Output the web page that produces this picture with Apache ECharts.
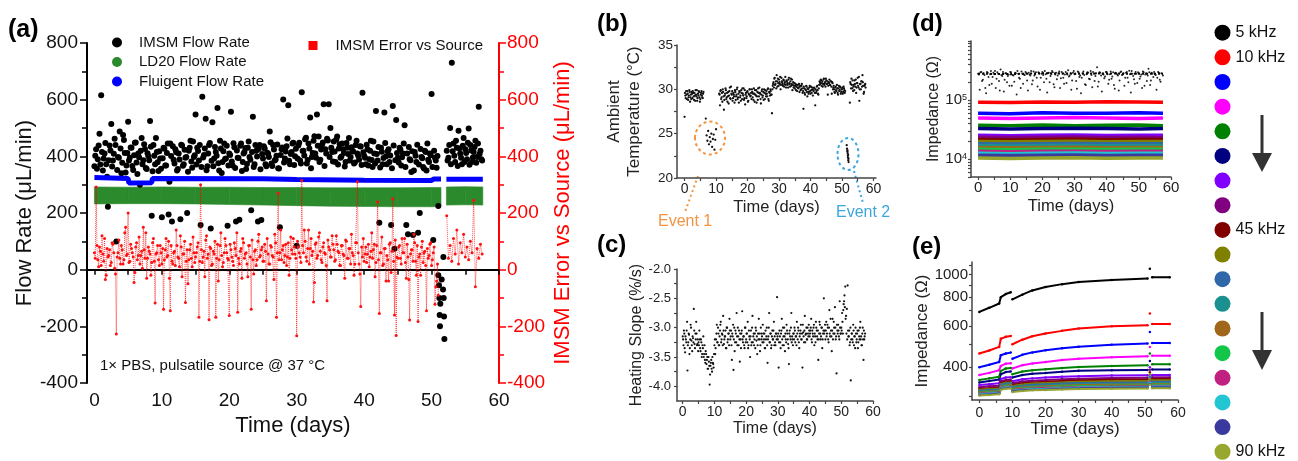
<!DOCTYPE html>
<html>
<head>
<meta charset="utf-8">
<script src="https://cdn.jsdelivr.net/npm/echarts@6/dist/echarts.min.js"></script>
<style>
html, body { margin: 0; padding: 0; background: #fff; }
#main { width: 1298px; height: 461px; }
</style>
</head>
<body>
<div id="main"></div>
<script>
var fontFam = '"Liberation Sans", Arial, sans-serif';

// ---- tick labels ----
var dayLabels = [0, 10, 20, 30, 40, 50, 60];
var dayTicks = [0, 5, 10, 15, 20, 25, 30, 35, 40, 45, 50, 55, 60];
var slopeLabels = [-4, -3.5, -3, -2.5, -2];
var slopeTicks = [-4, -3.75, -3.5, -3.25, -3, -2.75, -2.5, -2.25, -2];
var dImpLabels = [1e4, 1e5];
var dImpTicks = [5000, 6000, 7000, 8000, 9000, 1e4, 2e4, 3e4, 4e4, 5e4, 6e4, 7e4, 8e4, 9e4,
  1e5, 2e5, 3e5, 4e5, 5e5, 6e5, 7e5, 8e5, 9e5, 1e6];
var eImpLabels = [400, 600, 800, 1000];
var eImpTicks = [300, 400, 500, 600, 700, 800, 900, 1000, 1100];

// ---- (a) flow rates, sampled every 0.25 day (second pass offset by 0.125 day) ----
var imsmA = [
  365, 425, 390, 480, 616, 350, 410, 372, 222, 438, 514, 385, 462, 99, 398, 488, 340, 475, 412, 368,
  522, 395, 430, 352, 448, 378, 410, 300, 465, 386, 426, 355, 400, 525, 190, 440, 372, 415, 348, 392,
  185, 430, 368, 412, 195, 445, 170, 388, 425, 350, 410, 178, 438, 372, 395, 200, 420, 455, 360, 398,
  548, 430, 385, 158, 610, 405, 533, 365, 440, 145, 520, 392, 415, 571, 350, 428, 380, 445, 392, 155,
  410, 557, 368, 432, 170, 395, 176, 445, 380, 415, 355, 430, 398, 210, 540, 372, 420, 170, 440, 175,
  392, 428, 365, 410, 488, 375, 440, 385, 402, 358, 150, 425, 601, 392, 436, 580, 372, 415, 448, 400,
  84, 438, 385, 626, 420, 460, 375, 445, 537, 398, 455, 410, 548, 470, 388, 440, 584, 425, 462, 584,
  500, 415, 452, 380, 470, 428, 395, 445, 412, 380, 430, 465, 398, 420, 375, 440, 410, 388, 435, 624,
  402, 372, 425, 390, 455, 362, 410, 560, 385, 166, 430, 372, 555, 400, 418, 380, 158, 578, 74, 528,
  395, 430, 368, 410, 510, 158, 125, 390, 345, 122, 415, 380, 130, 200, 398, 362, 420, 350, 388, 410,
  620, 105, 395, 360, 225
];
var imsmA2 = [
  402, 356, 438, 371, 415, 392, 447, 328, 386, 421, 364, 409, 440, 352, 395, 428, 377, 458, 343, 412,
  385, 431, 366, 404, 449, 338, 397, 420, 372, 443, 359, 411, 386, 434, 347, 402, 465, 379, 418, 356,
  393, 427, 368, 445, 310, 401, 436, 375, 414, 355, 389, 441, 367, 423, 398, 346, 430, 382, 452, 404,
  371, 419, 440, 362, 396, 428, 351, 410, 447, 384, 365, 433, 402, 376, 455, 341, 418, 391, 437, 368,
  405, 382, 446, 359, 421, 394, 437, 348, 410, 429, 373, 452, 388, 415, 362, 440, 399, 426, 354, 408,
  436, 372, 413, 398, 450, 366, 424, 389, 442, 357, 405, 431, 378, 417, 463, 384, 408, 445, 369, 427,
  392, 448, 375, 419, 403, 466, 387, 428, 358, 412, 471, 395, 437, 380, 424, 449, 366, 410, 456, 398,
  430, 382, 417, 459, 371, 443, 399, 425, 364, 447, 408, 385, 432, 417, 378, 455, 402, 436, 369, 414,
  395, 441, 368, 420, 387, 452, 375, 408, 433, 361, 416, 394, 447, 372, 425, 403, 358, 438, 386, 412,
  378, 424, 397, 445, 362, 410, 433, 386, 418, 350, 402, 441, 371, 426, 393, 357, 415, 445, 380, 404,
  362, 420, 385, 401
];
var imsmB = [420, 395, 500, 730, 445, 380, 430, 490, 410, 372, 465, 425, 390, 498, 440, 380, 415, 455, 398, 575, 420, 385];
var imsmB2 = [385, 440, 372, 418, 402, 455, 366, 428, 395, 437, 380, 412, 448, 370, 421, 396, 433, 377, 445, 408, 390];
var imsmEvent = [[51.0, -20], [51.1, -55], [51.15, -100], [51.2, -160], [51.25, -200], [51.3, -120],
  [51.5, -35], [51.7, -70], [51.75, 45], [51.8, -100], [51.85, -165], [51.9, -245]];

var ld20Days = [0, 5, 10, 15, 20, 25, 30, 35, 40, 45, 50, 51.4, 51.8, 52.2, 55, 57.6];
var ld20Low = [232, 233, 233, 232, 230, 228, 226, 224, 223, 222, 222, 223, null, 228, 229, 228];
var ld20High = [292, 291, 292, 291, 291, 290, 290, 289, 289, 289, 290, 290, null, 292, 293, 292];

var fluDays = [0, 5, 5.1, 8.5, 8.6, 25, 30, 40, 50, 50.3, 51.4, 51.8, 52.2, 57.6];
var fluVals = [325, 322, 306, 307, 322, 321, 318, 316, 315, 320, 320, null, 319, 319];

var errA = [
  60, 292, 35, 80, 15, 55, 110, -20, 45, 70, 25, 90, 5, -227, 60, 40, 85, 20, 130, 50,
  200, 30, 75, 45, -10, 95, 50, 20, 65, 150, 40, -30, 80, 55, 25, 110, -118, 60, 35, 85,
  20, -140, 70, 45, 100, -145, 30, 60, 15, 85, 40, 120, -25, 55, -116, 70, 35, 90, 10, 60,
  45, 80, -168, 300, 25, 65, 105, 40, -177, 75, 20, 55, -168, 90, 35, 130, 10, 60, 85, 40,
  -162, 70, 30, 95, 50, -150, 20, 75, 110, 40, 60, -25, 85, -140, 35, 65, 15, 100, 45, 70,
  30, 90, -110, 55, 20, 80, 45, 125, -168, 270, 60, 35, 85, 50, 15, 95, 40, 70, 110, 55,
  -233, 80, 45, 315, 60, 100, 30, 140, 75, 50, -114, 90, 40, 115, 65, 25, 95, 55, -110, 80,
  45, 120, 70, 35, 90, 60, 15, 85, 50, 105, 40, 75, 20, 60, -20, 95, 310, 20, -130, 45,
  30, 80, 55, 10, 65, 40, 90, 25, 240, -155, 60, 15, 75, -40, 35, 90, -10, 250, -160, -232,
  40, 85, 20, 60, 110, -30, 45, -178, 70, 30, 95, -20, -183, 55, 80, 25, 65, -145, 40, 90,
  15, 60, -122, -40, -90
];
var errA2 = [
  40, 85, 10, 65, 120, 30, -35, 75, 50, 15, 95, 60, -15, 45, 105, 20, 70, 35, 150, 55,
  25, 90, 60, -45, 80, 35, 115, 50, 5, 70, 130, 40, 65, -20, 95, 30, 55, 85, 15, 60,
  75, 35, 110, 50, -30, 85, 20, 65, 140, 45, 10, 80, 55, 100, 30, -50, 70, 40, 115, 25,
  60, 95, 30, 70, 45, -25, 120, 55, 80, 15, 65, 100, 40, -40, 85, 50, 25, 110, 60, 35,
  90, 45, 15, 75, 130, 40, 65, -30, 95, 55, 20, 85, 45, 105, -15, 70, 35, 125, 50, 80,
  30, 65, 110, 20, 85, 50, -35, 95, 60, 35, 140, 70, 25, 90, 45, -20, 115, 55, 80, 40,
  100, 60, 25, 85, 140, 45, 75, 20, 110, 65, -45, 95, 50, 130, 35, 80, 60, 15, 105, 70,
  45, 90, 30, 120, 65, 15, 85, 55, -30, 100, 40, 75, 125, 50, 20, 95, 60, -15, 80, 110,
  55, 25, 90, 45, 130, 70, -25, 85, 35, 60, 115, 20, 75, 50, -40, 95, 65, 30, 105, 45,
  80, 40, 110, 60, 25, 90, -35, 55, 70, 125, 30, 85, 45, -20, 100, 60, 15, 75, 50, 95,
  35, 80, -60, 20
];
var errB = [190, 40, 85, 30, 110, 55, 140, 20, 95, 60, 125, 45, 80, 35, 100, 60, 245, -60, 75, 40, 90, 55];

// ---- (b) ambient temperature (two interleaved passes) ----
var tempStart = [26.9, 29.3, 29.8, 28.9, 29.5, 29.1, 29.9, 28.6, 29.4, 29.7, 29.0, 29.6, 28.8, 29.3, 29.9,
  29.2, 28.7, 29.5, 29.8, 29.1, 28.9, 29.6, 29.3, 29.0, 29.7];
var tempStart2 = [29.6, 29.0, 29.4, 29.8, 28.8, 29.3, 29.7, 29.1, 28.9, 29.5, 29.8, 29.2, 29.6, 28.7, 29.4,
  29.9, 29.0, 29.3, 29.7, 28.6, 29.4, 29.8, 29.1, 29.5];
var tempEvent1 = [26.7, 24.8, 24.2, 25.3, 23.8, 24.6, 24.1, 25.0, 23.5, 24.4, 24.9, 23.2, 24.3, 25.5];
var tempMain = [
  29.5, 28.2, 29.9, 29.1, 28.6, 29.7, 27.7, 29.3, 30.1, 28.9, 29.6, 29.2, 28.4, 29.8, 29.0, 30.3, 29.4, 28.7, 29.6, 29.2,
  29.9, 28.8, 29.4, 30.2, 29.1, 28.5, 29.7, 29.3, 29.9, 28.9, 29.5, 30.1, 29.0, 28.3, 29.6, 29.2, 29.8, 28.7, 29.4, 30.0,
  29.3, 28.9, 29.7, 29.5, 30.1, 28.6, 29.4, 29.9, 29.2, 28.8, 29.6, 30.2, 29.5, 28.4, 29.8, 29.1, 29.7, 30.0, 28.9, 29.5,
  29.8, 29.2, 30.1, 28.7, 29.6, 30.0, 29.4, 27.3, 30.4, 30.8, 31.2, 30.5, 30.9, 31.6, 30.3, 30.7, 31.1, 30.6, 30.0, 31.3,
  30.8, 30.4, 31.0, 30.6, 31.4, 30.2, 30.9, 30.5, 31.1, 30.7, 30.3, 31.2, 30.6, 29.9, 30.8, 30.4, 30.1, 30.6, 30.3, 29.8,
  30.5, 30.2, 29.7, 30.4, 30.0, 30.6, 29.6, 27.8, 30.1, 29.4, 29.9, 30.3, 29.2, 30.0, 29.7, 30.4, 29.5, 29.9, 30.2, 29.3,
  29.8, 30.1, 28.2, 29.6, 30.3, 29.9, 29.4, 30.5, 30.8, 31.1, 30.4, 30.9, 30.6, 31.2, 30.7, 30.3, 31.0, 30.6, 29.4, 30.8,
  31.1, 30.5, 30.9, 29.5, 30.7, 30.2, 30.0, 29.6, 30.3, 29.8, 30.1, 29.4, 30.4, 29.9, 30.2, 29.7, 30.0, 29.5, 30.3, 29.9,
  29.8
];
var tempMain2 = [
  29.4, 29.8, 28.9, 29.6, 30.0, 29.2, 28.8, 29.5, 29.9, 29.1, 28.6, 29.7, 29.3, 30.2, 28.9, 29.5, 29.8, 29.0, 29.4, 28.5,
  29.7, 29.2, 30.0, 28.9, 29.5, 29.8, 29.1, 28.7, 29.6, 30.1, 29.3, 28.8, 29.9, 29.4, 29.0, 29.7, 28.6, 29.5, 30.0, 29.2,
  29.6, 30.0, 29.1, 28.8, 29.5, 29.9, 29.3, 28.5, 29.7, 30.1, 29.2, 29.6, 28.9, 29.4, 30.0, 29.3, 28.8, 29.6, 29.9, 29.2,
  29.5, 30.0, 28.9, 29.7, 29.3, 29.8, 29.4, 30.0, 30.6, 30.2, 31.3, 30.6, 30.1, 30.9, 31.2, 30.4, 30.8, 31.4, 30.5, 30.9,
  30.6, 31.1, 30.3, 30.8, 30.5, 31.0, 30.7, 30.2, 31.3, 30.6, 30.9, 30.4, 31.1, 30.5, 30.2, 30.7, 30.4, 29.9, 30.5, 30.2,
  30.1, 30.6, 30.3, 29.9, 30.4, 30.1, 29.8, 30.3, 29.6, 30.0, 30.4, 29.7, 30.1, 29.5, 30.2, 29.8, 30.3, 29.6, 30.0, 29.9,
  30.2, 29.6, 30.0, 29.8, 30.4, 29.5, 30.1, 30.9, 30.6, 31.0, 30.7, 30.3, 31.1, 30.5, 30.8, 31.2, 30.6, 30.9, 30.4, 30.7,
  30.5, 30.9, 30.3, 30.8, 30.0, 30.4, 29.7, 30.2, 29.9, 30.5, 29.6, 30.1, 29.8, 30.3, 29.5, 30.0, 30.2, 29.7, 30.1, 29.6
];
var tempEvent2 = [[51.5, 23.7], [51.6, 23.3], [51.7, 23.0], [51.75, 23.1], [51.8, 22.8], [51.85, 22.5],
  [51.9, 22.3], [51.95, 22.6], [52.0, 22.0], [52.05, 22.2], [52.1, 21.8]];
var tempEnd = [28.5, 30.6, 31.2, 30.1, 29.8, 30.5, 31.0, 30.3, 29.6, 30.7, 31.3, 30.2, 28.7, 30.6, 30.0,
  30.9, 31.6, 30.4, 29.7, 30.5, 30.2];
var tempEnd2 = [30.8, 30.1, 30.5, 31.0, 30.3, 29.9, 30.6, 31.1, 30.2, 30.7, 30.4, 31.4, 30.0, 30.6, 30.9,
  30.3, 30.8, 29.5, 30.4, 30.6];

// ---- (c) heating slope, sampled every 0.25 day (two interleaved passes) ----
var slope = [
  -3.15, -3.3, -3.1, -3.42, -3.2, -3.05, -3.73, -3.25, -3.12, -3.35, -2.95, -3.22, -3.4, -3.18, -2.68, -3.28, -3.1, -2.9, -3.3, -3.2,
  -3.25, -3.05, -3.35, -3.2, -3.5, -3.3, -3.15, -3.45, -3.55, -3.4, -3.62, -3.5, -3.7, -3.58, -3.97, -3.65, -3.55, -3.75, -3.6, -3.68,
  -3.3, -3.45, -3.2, -2.95, -3.25, -3.1, -3.3, -3.05, -2.9, -3.2, -3.12, -2.8, -3.28, -3.15, -3.05, -3.35, -3.0, -3.2, -3.1, -2.85,
  -3.2, -3.05, -3.55, -3.15, -3.72, -3.0, -3.25, -3.1, -2.75, -3.3, -3.15, -3.05, -3.58, -3.2, -3.1, -2.72, -3.25, -3.15, -3.35, -3.0,
  -3.2, -3.1, -2.9, -3.3, -3.15, -3.5, -3.05, -3.25, -2.8, -3.15, -3.3, -3.1, -3.0, -3.22, -3.45, -3.1, -2.85, -3.2, -3.3, -3.1,
  -3.15, -2.95, -3.25, -3.1, -3.35, -3.2, -3.0, -3.6, -3.15, -2.75, -3.25, -3.1, -3.3, -3.05, -3.2, -2.9, -3.15, -3.3, -3.1, -2.48,
  -3.2, -3.68, -3.05, -3.25, -3.1, -2.85, -3.3, -3.15, -3.0, -3.4, -3.2, -2.95, -3.1, -3.28, -3.62, -3.05, -3.2, -2.75, -3.15, -3.3,
  -3.1, -3.0, -3.25, -3.15, -2.9, -3.2, -3.05, -3.35, -3.1, -2.95, -3.2, -3.68, -3.08, -3.25, -2.8, -3.12, -3.0, -3.2, -3.1, -2.95,
  -3.15, -3.05, -2.85, -3.25, -3.1, -3.0, -3.3, -3.15, -2.9, -3.05, -3.2, -3.55, -3.1, -2.95, -3.2, -3.0, -3.35, -3.1, -2.5, -3.05,
  -3.2, -2.9, -3.1, -3.0, -3.25, -2.7, -3.15, -3.05, -3.4, -2.85, -3.1, -3.0, -2.65, -3.2, -3.78, -3.05, -2.95, -3.15, -2.55, -3.1,
  -3.0, -2.75, -3.1, -2.6, -2.45, -2.3, -2.8, -2.68, -2.28, -3.15, -3.05, -3.25, -3.9, -3.1, -3.2, -2.95, -3.3, -3.15, -3.0, -3.25,
  -3.1, -3.35, -3.05, -3.2, -2.9, -3.15, -3.3, -3.0, -3.55, -3.2, -3.1
];
var slope2 = [
  -3.2, -3.05, -3.35, -3.15, -3.25, -2.9, -3.3, -3.1, -3.45, -3.2, -3.0, -3.3, -3.15, -3.25, -3.05, -3.35, -3.2, -3.1, -3.28, -3.4,
  -3.3, -3.2, -3.4, -3.25, -3.45, -3.35, -3.5, -3.3, -3.6, -3.45, -3.55, -3.7, -3.5, -3.65, -3.8, -3.6, -3.7, -3.5, -3.62, -3.45,
  -3.2, -3.35, -3.1, -3.25, -3.0, -3.3, -3.15, -2.95, -3.25, -3.1, -3.3, -3.05, -3.2, -3.15, -3.35, -3.0, -3.25, -3.1, -3.3, -3.05,
  -3.15, -3.3, -3.1, -2.95, -3.2, -3.4, -3.05, -3.25, -3.15, -3.0, -3.3, -3.2, -3.1, -3.35, -3.05, -3.2, -3.15, -3.3, -3.0, -3.25,
  -3.1, -3.25, -3.35, -3.05, -3.2, -3.15, -3.3, -3.0, -3.25, -3.1, -3.2, -3.35, -3.05, -3.15, -3.3, -3.2, -3.1, -3.4, -3.0, -3.2,
  -3.25, -3.1, -3.2, -3.35, -3.05, -3.15, -3.3, -3.2, -3.0, -3.25, -3.1, -3.35, -3.15, -3.2, -3.05, -3.3, -3.25, -3.1, -3.2, -3.15,
  -3.1, -3.25, -3.15, -3.35, -3.05, -3.2, -3.0, -3.3, -3.15, -3.1, -3.25, -3.05, -3.2, -3.35, -3.1, -3.15, -3.0, -3.25, -3.2, -3.1,
  -3.2, -3.05, -3.15, -3.3, -3.1, -3.0, -3.25, -3.15, -3.05, -3.2, -3.1, -2.95, -3.15, -3.05, -3.25, -3.1, -3.2, -3.0, -3.15, -3.05,
  -3.1, -3.0, -3.2, -3.05, -3.15, -2.95, -3.1, -3.25, -3.0, -3.15, -3.05, -3.2, -2.9, -3.1, -3.15, -3.0, -3.2, -3.05, -3.1, -2.95,
  -3.05, -3.15, -2.95, -3.2, -3.0, -3.1, -2.85, -3.15, -3.05, -3.2, -2.9, -3.1, -3.0, -3.15, -2.95, -3.1, -3.05, -3.2, -3.0, -3.1,
  -3.05, -2.9, -2.7, -2.55, -2.65, -2.85, -3.1, -3.2, -3.05, -3.15, -3.3, -3.0, -3.2, -3.1, -3.25, -3.05, -3.15, -3.35, -3.1, -3.2,
  -3.05, -3.25, -3.15, -3.0, -3.2, -3.3, -3.1, -3.2, -3.05, -3.15
];

// ---- (d)/(e) impedance per frequency ----
var freqs = [5, 10, 15, 20, 25, 30, 35, 40, 45, 50, 55, 60, 65, 70, 75, 80, 85, 90];
var freqShown = [5, 10, 45, 90];
var freqColors = ['#000000', '#ff0000', '#0000ff', '#ff00ff', '#008000', '#000080', '#8000ff', '#800080', '#800000',
  '#808000', '#2f67a8', '#1a9090', '#a0661a', '#12c64a', '#c0207f', '#22c6d2', '#3a3a9e', '#98a82e'];

// 5 kHz cloud (kOhm), every 0.5 day, two passes
var d5k = [
  280, 150, 300, 220, 265, 130, 290, 180, 310, 245,
  275, 160, 295, 210, 330, 255, 140, 285, 200, 270,
  300, 175, 260, 290, 125, 280, 230, 305, 190, 265,
  285, 145, 270, 310, 215, 260, 295, 170, 280, 240,
  300, 200, 275, 135, 290, 255, 310, 185, 270, 225,
  285, 160, 300, 240, 270, 195, 320, 260, 150, 290,
  275, 210, 305, 245, 130, 285, 265, 180, 295, 230,
  310, 165, 280, 255, 360, 205, 290, 140, 270, 250,
  300, 190, 275, 230, 295, 155, 285, 260, 215, 305,
  270, 175, 290, 240, 315, 135, 280, 225, 300, 195,
  285, 250, 160, 295, 270, 210, 340, 180, 290, 245,
  275, 150, 300, 220, 285, 260
];
var d5k2 = [
  270, 295, 210, 285, 160, 300, 245, 275, 190, 290,
  310, 230, 280, 145, 265, 300, 220, 285, 255, 175,
  295, 265, 205, 285, 310, 240, 160, 280, 270, 300,
  215, 290, 260, 185, 305, 275, 240, 295, 150, 280,
  265, 310, 230, 285, 200, 275, 295, 165, 290, 260,
  305, 235, 280, 190, 300, 270, 250, 285, 215, 310,
  280, 155, 295, 260, 240, 305, 185, 275, 290, 225,
  265, 300, 210, 285, 170, 295, 260, 280, 235, 300,
  275, 220, 305, 250, 180, 290, 270, 145, 295, 265,
  285, 240, 300, 200, 275, 310, 255, 190, 280, 295,
  230, 270, 305, 175, 285, 260, 295, 215, 280, 300,
  265, 240, 290, 205, 280
];
var dDays = [0, 10, 20, 30, 40, 50, 57.5];
var dBands = [ // kOhm
  [280, 275, 285, 280, 282, 278, 280],
  [92, 91, 93, 92, 94, 93, 92],
  [60, 59, 61, 60, 60, 61, 60],
  [50, 49, 50, 51, 50, 49, 50],
  [37.5, 37, 38, 37, 37.5, 38, 37],
  [33, 32.5, 33, 33.5, 33, 32.5, 33],
  [25.5, 25, 25.5, 25.8, 25.3, 25.5, 25.5],
  [23.5, 23.2, 23.5, 23.7, 23.3, 23.5, 23.4],
  [21.5, 21.2, 21.5, 21.7, 21.3, 21.5, 21.5],
  [20, 19.7, 20, 20.2, 19.8, 20, 20],
  [18.3, 18.1, 18.3, 18.5, 18.2, 18.3, 18.3],
  [17, 16.8, 17, 17.1, 16.9, 17, 17],
  [15.8, 15.6, 15.8, 15.9, 15.7, 15.8, 15.8],
  [14.7, 14.5, 14.7, 14.8, 14.6, 14.7, 14.7],
  [13.6, 13.4, 13.6, 13.7, 13.5, 13.6, 13.6],
  [12.6, 12.4, 12.6, 12.7, 12.5, 12.6, 12.6],
  [11.7, 11.5, 11.7, 11.8, 11.6, 11.7, 11.7],
  [10.5, 10.3, 10.5, 10.6, 10.4, 10.5, 10.5]
];

var eDays = [0, 3, 6, 6.5, 8, 9.5, 9.8, 10, 13, 16, 20, 25, 30, 40, 50.8, 51.2, 51.5, 51.8, 52.2, 57.5];
var eCurves = [ // Ohm
  [691, 720, 751, 800, 825, 840, null, 783, 820, 855, 884, 910, 929, 948, 962, null, 1060, null, 975, 975],
  [458, 472, 489, 530, 540, 545, null, 502, 525, 543, 558, 573, 586, 600, 606, null, 680, null, 613, 613],
  [400, 410, 421, 450, 458, 462, null, 435, 452, 463, 473, 482, 490, 500, 506, null, 567, null, 508, 508],
  [370, 378, 388, 405, 414, 416, null, 395, 408, 415, 421, 429, 435, 441, 446, null, 489, null, 448, 448],
  [352, 358, 364, 385, 395, 397, null, 373, 383, 388, 392, 397, 401, 405, 408, null, 458, null, 412, 412],
  [344, 349, 354, 373, 381, 383, null, 361, 370, 375, 378, 382, 386, 388, 389, null, 425, null, 391, 391],
  [335, 338, 341, 356, 361, 362, null, 348, 355, 358, 361, 364, 366, 368, 369, null, 400, null, 370, 370],
  [328, 331, 333, 348, 352, 353, null, 341, 347, 350, 352, 355, 357, 359, 360, null, 390, null, 362, 362],
  [323, 325, 327, 343, 347, 348, null, 336, 341, 344, 346, 349, 351, 353, 354, null, 380, null, 356, 356],
  [320, 322, 324, 339, 343, 344, null, 332, 337, 340, 342, 344, 346, 348, 349, null, 372, null, 351, 351],
  [317, 319, 321, 336, 340, 341, null, 329, 333, 336, 338, 340, 342, 343, 344, null, 365, null, 346, 346],
  [314, 316, 318, 333, 337, 338, null, 326, 330, 332, 334, 336, 338, 339, 340, null, 360, null, 342, 342],
  [312, 314, 316, 330, 334, 335, null, 323, 327, 329, 331, 333, 335, 336, 337, null, 355, null, 339, 339],
  [310, 312, 314, 328, 331, 332, null, 321, 324, 326, 328, 330, 332, 333, 334, null, 350, null, 336, 336],
  [308, 310, 312, 326, 329, 330, null, 319, 322, 324, 326, 327, 329, 330, 331, null, 346, null, 333, 333],
  [306, 308, 310, 324, 327, 328, null, 317, 320, 322, 323, 325, 327, 328, 329, null, 342, null, 330, 330],
  [304, 306, 308, 322, 325, 326, null, 315, 318, 320, 321, 323, 325, 326, 327, null, 338, null, 328, 328],
  [302, 304, 306, 320, 323, 324, null, 313, 316, 318, 319, 321, 322, 323, 324, null, 335, null, 325, 325]
];

// helpers
function seq(start, step, vals) {
  return vals.map(function (v, i) { return [start + i * step, v]; });
}
function zip(xs, ys) {
  return xs.map(function (x, i) { return [x, ys[i] == null ? '-' : ys[i]]; });
}
function byDay(a, b) { return a[0] - b[0]; }
function kohm(v) { return v * 1000; }

var chart = echarts.init(document.getElementById('main'));

var axisGrey = '#444';
var txt = '#222';

function timeAxis(grid, min, max, fs, margin, gap, nfs) {
  return {
    gridIndex: grid, type: 'value', min: min, max: max, position: 'bottom',
    axisLine: { show: true, onZero: false, lineStyle: { color: axisGrey, width: 1.5 } },
    axisTick: { show: true, customValues: dayTicks, length: 3, lineStyle: { color: axisGrey, width: 1.2 } },
    axisLabel: { customValues: dayLabels, fontSize: fs, color: txt, margin: margin, fontFamily: fontFam },
    splitLine: { show: false },
    name: 'Time (days)', nameLocation: 'middle', nameGap: gap,
    nameTextStyle: { fontSize: nfs, color: txt, fontFamily: fontFam }
  };
}

var xAxes = [
  { // (a) bottom labels
    gridIndex: 0, type: 'value', min: -1.1, max: 60, position: 'bottom',
    axisLine: { show: false, onZero: false }, axisTick: { show: false },
    axisLabel: { customValues: dayLabels, fontSize: 19, color: '#111', margin: 8, fontFamily: fontFam },
    splitLine: { show: false },
    name: 'Time (days)', nameLocation: 'middle', nameGap: 27,
    nameTextStyle: { fontSize: 22, color: '#111', fontFamily: fontFam }
  },
  { // (a) zero line
    gridIndex: 0, type: 'value', min: -1.1, max: 60, position: 'bottom',
    axisLine: { show: true, onZero: true, onZeroAxisIndex: 0, lineStyle: { color: '#000', width: 2 } },
    axisTick: { show: true, customValues: dayTicks, length: 5, lineStyle: { color: '#000', width: 1.5 } },
    axisLabel: { show: false }, splitLine: { show: false }
  },
  timeAxis(1, -2.4, 60.8, 14, 4, 21, 16.5),
  timeAxis(2, -1.8, 60, 14, 4, 20, 16),
  timeAxis(3, -2.2, 60, 15, 3, 21, 16.5),
  timeAxis(4, -2.2, 60, 14, 6, 21, 17)
];

var yAxes = [
  { // (a) left
    gridIndex: 0, type: 'value', min: -400, max: 800, interval: 200, position: 'left',
    axisLine: { show: true, onZero: false, lineStyle: { color: '#000', width: 2 } },
    axisTick: { show: true, length: 7, lineStyle: { color: '#000', width: 1.5 } },
    minorTick: { show: true, splitNumber: 2, length: 5, lineStyle: { color: '#000', width: 1.5 } },
    axisLabel: { fontSize: 19, color: '#111', margin: 9, fontFamily: fontFam },
    splitLine: { show: false },
    name: 'Flow Rate (\u03bcL/min)', nameLocation: 'middle', nameGap: 51,
    nameTextStyle: { fontSize: 22, color: '#111', fontFamily: fontFam }
  },
  { // (a) right
    gridIndex: 0, type: 'value', min: -400, max: 800, interval: 200, position: 'right',
    axisLine: { show: true, onZero: false, lineStyle: { color: '#ff0000', width: 2 } },
    axisTick: { show: true, length: 7, lineStyle: { color: '#ff0000', width: 1.5 } },
    minorTick: { show: true, splitNumber: 2, length: 5, lineStyle: { color: '#ff0000', width: 1.5 } },
    axisLabel: { fontSize: 19, color: '#ff0000', margin: 8, fontFamily: fontFam },
    splitLine: { show: false },
    name: 'IMSM Error vs Source (\u03bcL/min)', nameLocation: 'middle', nameGap: 53, nameRotate: 90,
    nameTextStyle: { fontSize: 22, color: '#ff0000', fontFamily: fontFam }
  },
  { // (b)
    gridIndex: 1, type: 'value', min: 20, max: 35, interval: 5,
    axisLine: { show: true, onZero: false, lineStyle: { color: axisGrey, width: 1.5 } },
    axisTick: { show: true, length: 3, lineStyle: { color: axisGrey, width: 1.2 } },
    minorTick: { show: true, splitNumber: 2, length: 3, lineStyle: { color: axisGrey, width: 1.2 } },
    axisLabel: { fontSize: 13.5, color: txt, margin: 4, fontFamily: fontFam },
    splitLine: { show: false },
    name: 'Ambient\nTemperature (\u00b0C)', nameLocation: 'middle', nameGap: 33,
    nameTextStyle: { fontSize: 17, lineHeight: 20, color: txt, fontFamily: fontFam, align: 'center' }
  },
  { // (c)
    gridIndex: 2, type: 'value', min: -4.25, max: -2,
    axisLine: { show: true, onZero: false, lineStyle: { color: axisGrey, width: 1.5 } },
    axisTick: { show: true, customValues: slopeTicks, length: 3, lineStyle: { color: axisGrey, width: 1.2 } },
    axisLabel: { customValues: slopeLabels, fontSize: 13, color: txt, margin: 6, fontFamily: fontFam,
      formatter: function (v) { return v.toFixed(1); } },
    splitLine: { show: false },
    name: 'Heating Slope (%/s)', nameLocation: 'middle', nameGap: 32,
    nameTextStyle: { fontSize: 16, color: txt, fontFamily: fontFam }
  },
  { // (d)
    gridIndex: 3, type: 'log', min: 5000, max: 1e6,
    axisLine: { show: true, onZero: false, lineStyle: { color: axisGrey, width: 1.5 } },
    axisTick: { show: true, customValues: dImpTicks, length: 3, lineStyle: { color: axisGrey, width: 1.2 } },
    axisLabel: { customValues: dImpLabels, fontSize: 15, color: txt, margin: 4, fontFamily: fontFam,
      formatter: function (v) { return '10{sup|' + Math.round(Math.log10(v)) + '}'; },
      rich: { sup: { fontSize: 9, verticalAlign: 'top', color: txt, fontFamily: fontFam, padding: [0, 0, 6, 0] } } },
    splitLine: { show: false },
    name: 'Impedance (\u03a9)', nameLocation: 'middle', nameGap: 28,
    nameTextStyle: { fontSize: 16, color: txt, fontFamily: fontFam }
  },
  { // (e)
    gridIndex: 4, type: 'log', min: 289, max: 1133,
    axisLine: { show: true, onZero: false, lineStyle: { color: axisGrey, width: 1.5 } },
    axisTick: { show: true, customValues: eImpTicks, length: 3, lineStyle: { color: axisGrey, width: 1.2 } },
    axisLabel: { customValues: eImpLabels, fontSize: 15, color: txt, margin: 4, fontFamily: fontFam,
      formatter: function (v) { return String(v); } },
    splitLine: { show: false },
    name: 'Impedance (\u03a9)', nameLocation: 'middle', nameGap: 33,
    nameTextStyle: { fontSize: 17, color: txt, fontFamily: fontFam }
  }
];

var series = [];
var ld20Green = '#2b8a2b';

// (a)
series.push({
  name: 'IMSM Flow Rate', type: 'scatter', xAxisIndex: 0, yAxisIndex: 0,
  data: seq(0, 0.25, imsmA).concat(seq(0.125, 0.25, imsmA2), seq(52.25, 0.25, imsmB), seq(52.375, 0.25, imsmB2), imsmEvent),
  symbolSize: 6, itemStyle: { color: '#000', opacity: 1 }
});
// LD20 band between its low and high readings
series.push({
  name: 'LD20 Flow Rate', type: 'custom', xAxisIndex: 0, yAxisIndex: 0,
  data: ld20Days.map(function (d, i) { return [d, ld20Low[i], ld20High[i]]; }),
  encode: { x: 0, y: [1, 2] },
  itemStyle: { color: ld20Green },
  renderItem: function (params, api) {
    var i = params.dataIndex;
    if (i >= ld20Days.length - 1 || ld20Low[i] == null || ld20Low[i + 1] == null) return;
    var pts = [
      api.coord([ld20Days[i], ld20Low[i]]), api.coord([ld20Days[i + 1], ld20Low[i + 1]]),
      api.coord([ld20Days[i + 1], ld20High[i + 1]]), api.coord([ld20Days[i], ld20High[i]])
    ];
    return { type: 'polygon', shape: { points: pts }, style: { fill: ld20Green, stroke: ld20Green, lineWidth: 0.6 } };
  }
});
series.push({
  name: 'Fluigent Flow Rate', type: 'line', xAxisIndex: 0, yAxisIndex: 0,
  data: zip(fluDays, fluVals), showSymbol: false,
  lineStyle: { width: 5, color: '#0000ff' }, itemStyle: { color: '#0000ff' }
});
series.push({
  name: 'IMSM Error vs Source', type: 'line', xAxisIndex: 0, yAxisIndex: 1,
  data: seq(0, 0.25, errA).concat(seq(0.125, 0.25, errA2)).sort(byDay).concat([[51.6, '-']], seq(52.25, 0.25, errB)),
  symbol: 'circle', symbolSize: 3, showSymbol: true, showAllSymbol: true,
  lineStyle: { width: 1, type: 'dotted', color: 'rgba(255,0,0,0.7)' },
  itemStyle: { color: '#ff1010' }
});

// (b)
series.push({
  name: 'temperature', type: 'scatter', xAxisIndex: 2, yAxisIndex: 2,
  data: seq(0, 0.25, tempStart).concat(seq(0.125, 0.25, tempStart2), seq(6.75, 0.25, tempEvent1),
    seq(11, 0.25, tempMain), seq(11.125, 0.25, tempMain2), tempEvent2,
    seq(52.5, 0.25, tempEnd), seq(52.625, 0.25, tempEnd2)),
  symbolSize: 2.3, itemStyle: { color: '#111', opacity: 1 }
});

// (c)
series.push({
  name: 'slope', type: 'scatter', xAxisIndex: 3, yAxisIndex: 3,
  data: seq(0, 0.25, slope).concat(seq(0.125, 0.25, slope2)),
  symbolSize: 2.2, itemStyle: { color: '#111', opacity: 1 }
});

// (d)
freqs.forEach(function (f, k) {
  series.push({
    name: f + ' kHz', type: 'line', xAxisIndex: 4, yAxisIndex: 4,
    data: zip(dDays, dBands[k].map(kohm)),
    showSymbol: false,
    lineStyle: { width: k === 0 ? 2 : 3.5, type: k === 0 ? 'dotted' : 'solid', color: freqColors[k] },
    itemStyle: { color: freqColors[k] }
  });
});
series.push({
  name: '5 kHz', type: 'scatter', xAxisIndex: 4, yAxisIndex: 4,
  data: seq(0, 0.5, d5k.map(kohm)).concat(seq(0.25, 0.5, d5k2.map(kohm))),
  symbolSize: 2, itemStyle: { color: '#000', opacity: 0.85 }
});

// (e)
freqs.forEach(function (f, k) {
  series.push({
    name: f + ' kHz', type: 'line', xAxisIndex: 5, yAxisIndex: 5,
    data: zip(eDays, eCurves[k]), symbol: 'circle', symbolSize: 2.5, showSymbol: true,
    lineStyle: { width: 2, color: freqColors[k] }, itemStyle: { color: freqColors[k] }
  });
});

var orange = '#f39443', blue2 = '#3ea6dc', arrowGrey = '#333';

var option = {
  animation: false,
  backgroundColor: '#fff',
  textStyle: { fontFamily: fontFam },
  grid: [
    { left: 87, top: 43, width: 412, height: 340 },
    { left: 677, top: 45, width: 199, height: 133 },
    { left: 677, top: 269, width: 196, height: 132 },
    { left: 971, top: 41, width: 200, height: 136 },
    { left: 972, top: 262, width: 206, height: 138 }
  ],
  xAxis: xAxes,
  yAxis: yAxes,
  legend: [
    {
      orient: 'vertical', left: 112, top: 35, padding: 0, itemWidth: 10, itemHeight: 10, itemGap: 4.5,
      selectedMode: false,
      data: [
        { name: 'IMSM Flow Rate', icon: 'circle', itemStyle: { color: '#000' } },
        { name: 'LD20 Flow Rate', icon: 'circle', itemStyle: { color: ld20Green } },
        { name: 'Fluigent Flow Rate', icon: 'circle', itemStyle: { color: '#0000ff' } }
      ],
      textStyle: { fontSize: 15, lineHeight: 14, color: '#111', fontFamily: fontFam, padding: [0, 0, 0, 12] }
    },
    {
      orient: 'vertical', left: 308.5, top: 38, padding: 0, itemWidth: 9, itemHeight: 9, selectedMode: false,
      data: [{ name: 'IMSM Error vs Source', icon: 'rect', itemStyle: { color: '#ff0000' } }],
      textStyle: { fontSize: 15, lineHeight: 14, color: '#111', fontFamily: fontFam, padding: [0, 0, 0, 13] }
    },
    {
      orient: 'vertical', left: 1214.5, top: 24.7, padding: 0, height: 440,
      itemWidth: 16, itemHeight: 16, itemGap: 8.65,
      icon: 'circle', selectedMode: false,
      data: freqs.map(function (f) { return f + ' kHz'; }),
      formatter: function (n) { return freqShown.indexOf(parseInt(n, 10)) >= 0 ? n : ''; },
      textStyle: { fontSize: 16, lineHeight: 16, color: '#111', fontFamily: fontFam }
    }
  ],
  graphic: [
    { type: 'text', x: 8, y: 30, style: { text: '(a)', fontSize: 25, fontWeight: 'bold', fontFamily: fontFam, fill: '#000', verticalAlign: 'middle' } },
    { type: 'text', x: 597, y: 24, style: { text: '(b)', fontSize: 24, fontWeight: 'bold', fontFamily: fontFam, fill: '#000', verticalAlign: 'middle' } },
    { type: 'text', x: 597, y: 245, style: { text: '(c)', fontSize: 24, fontWeight: 'bold', fontFamily: fontFam, fill: '#000', verticalAlign: 'middle' } },
    { type: 'text', x: 912, y: 24, style: { text: '(d)', fontSize: 24, fontWeight: 'bold', fontFamily: fontFam, fill: '#000', verticalAlign: 'middle' } },
    { type: 'text', x: 912, y: 247, style: { text: '(e)', fontSize: 24, fontWeight: 'bold', fontFamily: fontFam, fill: '#000', verticalAlign: 'middle' } },
    { type: 'text', x: 100, y: 366, style: { text: '1\u00d7 PBS, pulsatile source @ 37 \u00b0C', fontSize: 15, fontFamily: fontFam, fill: '#111', verticalAlign: 'middle' } },
    // event markers on (b)
    { type: 'ellipse', shape: { cx: 710, cy: 138, rx: 15, ry: 16.5 }, style: { fill: 'none', stroke: orange, lineWidth: 2, lineDash: [3, 3] } },
    { type: 'line', shape: { x1: 698, y1: 176, x2: 685, y2: 212 }, style: { stroke: orange, lineWidth: 2, lineDash: [2, 3] } },
    { type: 'text', x: 658, y: 222, style: { text: 'Event 1', fontSize: 16, fontFamily: fontFam, fill: orange, verticalAlign: 'middle' } },
    { type: 'ellipse', shape: { cx: 848, cy: 154, rx: 10.5, ry: 16 }, style: { fill: 'none', stroke: blue2, lineWidth: 2, lineDash: [3, 3] } },
    { type: 'line', shape: { x1: 854, y1: 171, x2: 863, y2: 203 }, style: { stroke: blue2, lineWidth: 2, lineDash: [2, 3] } },
    { type: 'text', x: 836, y: 213, style: { text: 'Event 2', fontSize: 16, fontFamily: fontFam, fill: blue2, verticalAlign: 'middle' } },
    // arrows beside the frequency key
    { type: 'line', shape: { x1: 1262, y1: 115, x2: 1262, y2: 156 }, style: { stroke: arrowGrey, lineWidth: 3 } },
    { type: 'polygon', shape: { points: [[1252, 153], [1272, 153], [1262, 172]] }, style: { fill: arrowGrey } },
    { type: 'line', shape: { x1: 1262, y1: 312, x2: 1262, y2: 353 }, style: { stroke: arrowGrey, lineWidth: 3 } },
    { type: 'polygon', shape: { points: [[1252, 350], [1272, 350], [1262, 370]] }, style: { fill: arrowGrey } }
  ],
  series: series
};

chart.setOption(option);
</script>
</body>
</html>
